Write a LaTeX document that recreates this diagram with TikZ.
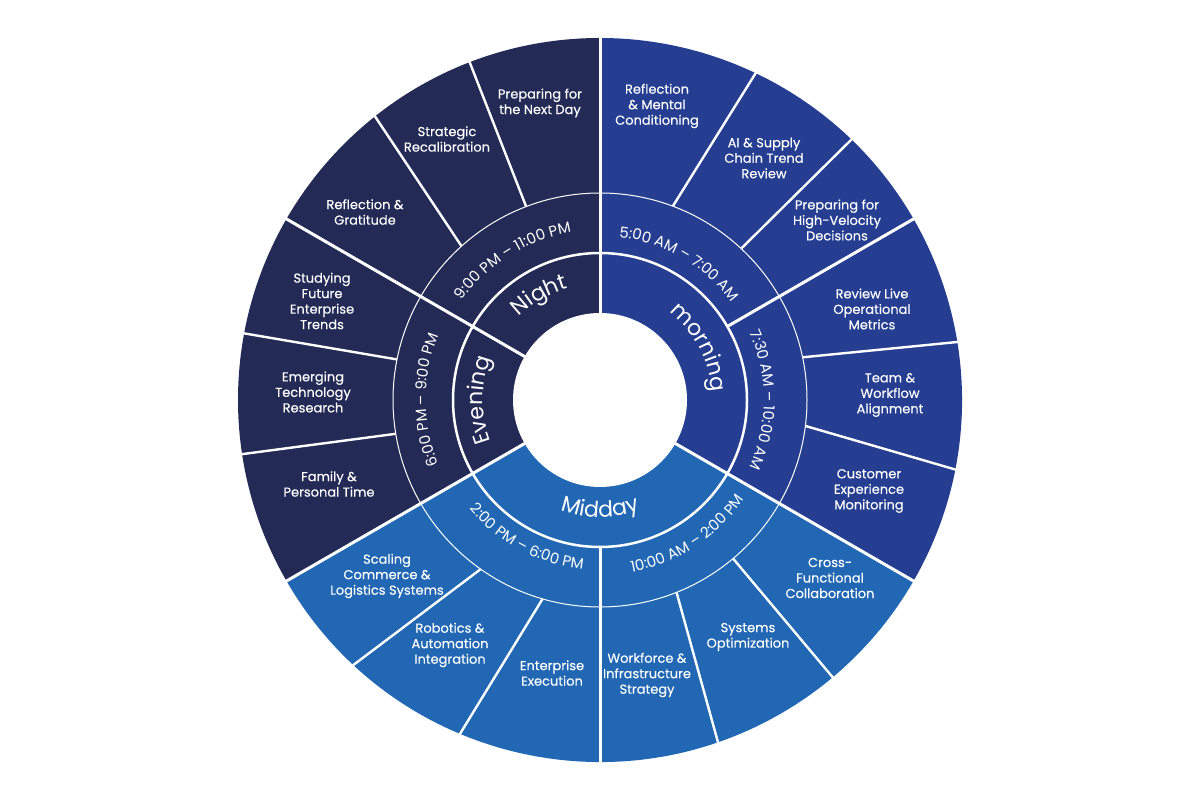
\documentclass[tikz,border=0pt]{standalone}
\usepackage{fontspec}
\setmainfont{Poppins}
\newfontfamily\medfont{Poppins}[FakeBold=0.25]
\usetikzlibrary{decorations.text}
\definecolor{nightcol}{HTML}{232A56}
\definecolor{morningcol}{HTML}{263E91}
\definecolor{middaycol}{HTML}{2167B3}
\newcommand\perfont{\fontsize{22}{22}\selectfont}
\newcommand\timefont{\fontsize{15}{15}\selectfont}
\newcommand\arctext[5]{\path[decorate,decoration={text along path,text align=center,text color=white,text={|#4|#5}}] (#1:#3) arc[start angle=#1,end angle=#2,radius=#3];}
\begin{document}
\begin{tikzpicture}[x=1pt,y=1pt,
  sepmain/.style={white,line width=3pt},
  sepsub/.style={white,line width=2.4pt},
  seglabel/.style={text=white,align=center,font=\medfont\fontsize{13}{15.5}\selectfont,inner sep=0pt}]
\useasboundingbox (0,0) rectangle (1200,800);
\begin{scope}[shift={(600,400)}]
  \fill[nightcol] (0,0) -- (90:362) arc[start angle=90,end angle=210,radius=362] -- cycle;
  \fill[middaycol] (0,0) -- (210:362) arc[start angle=210,end angle=330,radius=362] -- cycle;
  \fill[morningcol] (0,0) -- (330:362) arc[start angle=330,end angle=450,radius=362] -- cycle;
  \fill[white] (0,0) circle[radius=87];
  \foreach \a in {90,150,210,330} \draw[sepmain] (\a:86) -- (\a:364);
  \foreach \a in {30,270} \draw[sepmain] (\a:147) -- (\a:364);
  \foreach \ai/\ao in {69.4/64.5, 47/46, 11.9/9.2, -7.2/-11.1, -50/-50, -68.3/-71, 253.9/247.2, 234.8/227, 189.4/188.6, 168.7/169.4, 132/128.4, 110.9/111.1}
    \draw[sepsub] (\ai:207) -- (\ao:364);
  \draw[white,line width=2.5pt] (0,0) circle[radius=147];
  \draw[white,line width=1pt] (0,0) circle[radius=207];
  \arctext{150}{90}{116}{\perfont}{Night}
  \arctext{210}{150}{117}{\perfont}{Evening}
  \arctext{88}{-32}{112}{\perfont}{morning}
  \arctext{210}{330}{117}{\perfont}{Midday}
  \arctext{152}{92}{170}{\timefont}{9:00 PM – 11:00 PM}
  \arctext{90}{30}{164}{\timefont}{5:00 AM – 7:00 AM}
  \arctext{30}{-30}{164}{\timefont}{7:30 AM – 10:00 AM}
  \arctext{210}{150}{174}{\timefont}{6:00 PM – 9:00 PM}
  \arctext{212}{272}{170}{\timefont}{2:00 PM – 6:00 PM}
  \arctext{273}{333}{175}{\timefont}{10:00 AM – 2:00 PM}
\end{scope}
\node[seglabel] (s1) at (657,694) {Reflection\\\& Mental\\Conditioning};
\node[seglabel] (s2) at (764,642) {AI \& Supply\\Chain Trend\\Review};
\node[seglabel] (s3) at (837,580) {Preparing for\\High-Velocity\\Decisions};
\node[seglabel] (s4) at (872,491) {Review Live\\Operational\\Metrics};
\node[seglabel] (s5) at (890,405) {Team \&\\Workflow\\Alignment};
\node[seglabel] (s6) at (869,309) {Customer\\Experience\\Monitoring};
\node[seglabel] (s7) at (830,222) {Cross-\\Functional\\Collaboration};
\node[seglabel] (s8) at (748,163) {Systems\\Optimization};
\node[seglabel] (s9) at (647,125) {Workforce \&\\Infrastructure\\Strategy};
\node[seglabel] (s10) at (552,127) {Enterprise\\Execution};
\node[seglabel] (s11) at (450,155) {Robotics \&\\Automation\\Integration};
\node[seglabel] (s12) at (387,224) {Scaling\\Commerce \&\\Logistics Systems};
\node[seglabel] (s13) at (329,316) {Family \&\\Personal Time};
\node[seglabel] (s14) at (313,408) {Emerging\\Technology\\Research};
\node[seglabel] (s15) at (322,499) {Studying\\Future\\Enterprise\\Trends};
\node[seglabel] (s16) at (365,588) {Reflection \&\\Gratitude};
\node[seglabel] (s17) at (447,661) {Strategic\\Recalibration};
\node[seglabel] (s18) at (540,697) {Preparing for\\the Next Day};
\end{tikzpicture}
\end{document}
